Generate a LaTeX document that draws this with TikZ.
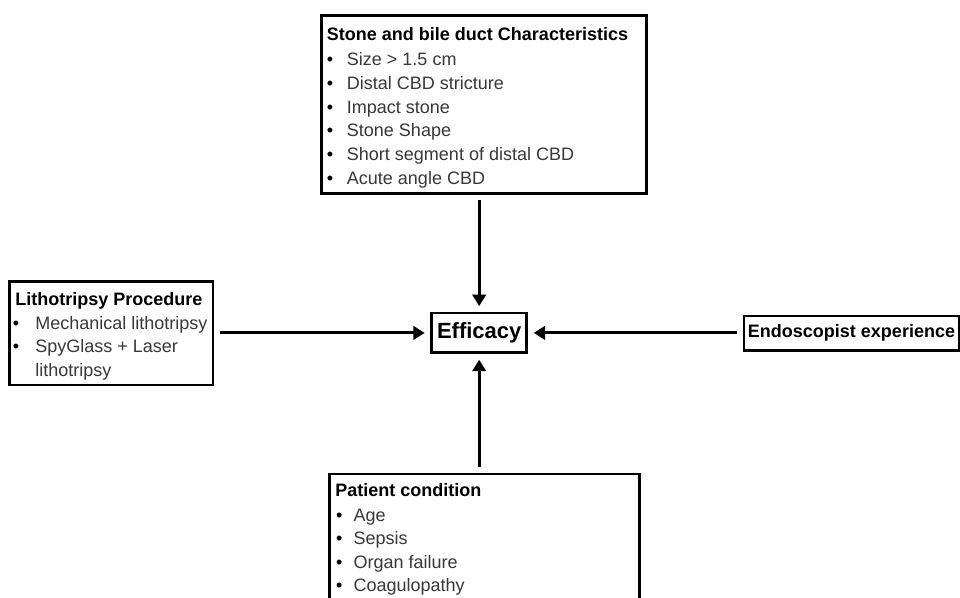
\documentclass[tikz,border=0pt]{standalone}
\usepackage{fontspec}
\setmainfont{Liberation Sans}
\usetikzlibrary{arrows.meta}
\definecolor{itemgray}{HTML}{383838}
\tikzset{
  box/.style={draw=black, line width=2pt, rectangle, inner sep=0pt, outer sep=0pt},
  ttl/.style={anchor=base west, inner sep=0pt, font=\fontsize{13.5}{16}\selectfont\bfseries},
  itm/.style={anchor=base west, inner sep=0pt, text=itemgray, font=\fontsize{13.5}{16}\selectfont},
  bul/.style={anchor=base, inner sep=0pt, font=\fontsize{13.5}{16}\selectfont},
  conn/.style={line width=2.2pt, -{Triangle[length=8.5pt,width=10pt]}, shorten <=5.25pt, shorten >=5.25pt},
}
\begin{document}
\begin{tikzpicture}[x=0.75pt,y=-0.75pt]
\useasboundingbox (0,0) rectangle (960,597);
\clip (0,0) rectangle (960,597);
\fill[white] (0,0) rectangle (960,597);

% Top box
\node[box, anchor=north west, minimum width=243.75pt, minimum height=133.2pt] (top) at (321.7,15.7) {};
\node[ttl] (topt) at (326.7,40) {Stone and bile duct Characteristics};
\foreach \y/\t [count=\i] in {65/{Size > 1.5 cm},89/{Distal CBD stricture},113/{Impact stone},136.5/{Stone Shape},160/{Short segment of distal CBD},184/{Acute angle CBD}}{
  \node[bul] (topb\i) at (330,\y) {•};
  \node[itm] (topi\i) at (346.7,\y) {\t};
}

% Left box
\node[box, anchor=north west, minimum width=152.8pt, minimum height=77.5pt] (lit) at (9.3,281.7) {};
\node[ttl] (litt) at (15,305) {Lithotripsy Procedure};
\node[bul] (litb1) at (16,329) {•};
\node[itm] (liti1) at (35,329) {Mechanical lithotripsy};
\node[bul] (litb2) at (16,352.5) {•};
\node[itm] (liti2) at (35,352.5) {SpyGlass + Laser};
\node[itm] (liti3) at (35,376) {lithotripsy};

% Efficacy
\node[box, minimum width=71.25pt, minimum height=29.8pt, font=\fontsize{16.5}{18}\selectfont\bfseries] (eff) at (479.2,332.9) {Efficacy};

% Endoscopist
\node[box, anchor=north west, minimum width=161.25pt, minimum height=26pt, font=\fontsize{13.5}{16}\selectfont\bfseries] (endo) at (744,316) {Endoscopist experience};

% Bottom box
\node[box, anchor=north west, minimum width=232.5pt, minimum height=109.5pt] (pat) at (329.3,474) {};
\node[ttl] (patt) at (335,496.7) {Patient condition};
\foreach \y/\t [count=\i] in {521/{Age},544.5/{Sepsis},568/{Organ failure},591.5/{Coagulopathy}}{
  \node[bul] (patb\i) at (339.3,\y) {•};
  \node[itm] (pati\i) at (353.3,\y) {\t};
}

% Connectors
\draw[conn] (top.south -| eff.north) -- (eff.north);
\draw[conn] (lit.east |- eff.west) -- (eff.west);
\draw[conn] (endo.west |- eff.east) -- (eff.east);
\draw[conn] (pat.north -| eff.south) -- (eff.south);
\end{tikzpicture}
\end{document}
